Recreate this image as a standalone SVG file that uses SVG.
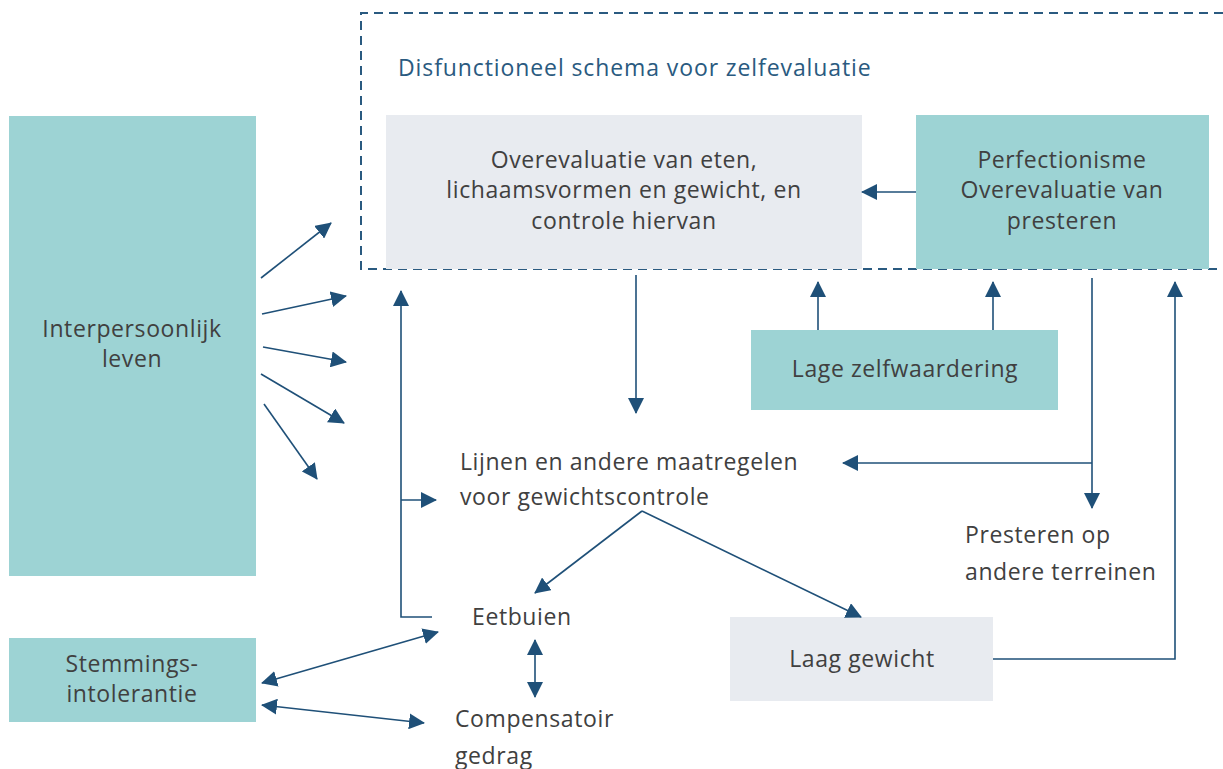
<svg xmlns="http://www.w3.org/2000/svg" width="1223" height="769" viewBox="0 0 1223 769">
<style>
.teal{fill:#9dd3d4}
.gray{fill:#e8ebf0}
.t{font-family:"Open Sans",Lato,sans-serif;font-size:23px;letter-spacing:0.6px;fill:#404040}
.c{text-anchor:middle}
.ln{stroke:#1f5078;stroke-width:1.6;fill:none}
.a{marker-end:url(#ah)}
.b{marker-start:url(#ahs);marker-end:url(#ah)}
</style>
<defs>
<marker id="ah" markerUnits="userSpaceOnUse" markerWidth="16" markerHeight="16" viewBox="0 0 16 16" refX="15" refY="8" orient="auto"><path d="M0,0 L16,8 L0,16 z" fill="#1f5078"/></marker>
<marker id="ahs" markerUnits="userSpaceOnUse" markerWidth="16" markerHeight="16" viewBox="0 0 16 16" refX="1" refY="8" orient="auto"><path d="M16,0 L0,8 L16,16 z" fill="#1f5078"/></marker>
</defs>
<rect width="1223" height="769" fill="#fff"/>
<g id="schema">
<path d="M1223,13 L361,13 L361,269 L1223,269" fill="none" stroke="#2a5a80" stroke-width="2" stroke-dasharray="9,6"/>
<text class="t" x="398" y="76" style="fill:#2a5a80;letter-spacing:0.9px">Disfunctioneel schema voor zelfevaluatie</text>
</g>
<g id="overevaluatie">
<rect class="gray" x="386" y="115" width="476" height="154"/>
<text class="t c" x="624" y="168">Overevaluatie van eten,</text>
<text class="t c" x="624" y="198">lichaamsvormen en gewicht, en</text>
<text class="t c" x="624" y="229">controle hiervan</text>
</g>
<g id="perfectionisme">
<rect class="teal" x="916" y="115" width="293" height="154"/>
<text class="t c" x="1062" y="168">Perfectionisme</text>
<text class="t c" x="1062" y="198">Overevaluatie van</text>
<text class="t c" x="1062" y="229">presteren</text>
</g>
<g id="interpersoonlijk">
<rect class="teal" x="9" y="116" width="247" height="460"/>
<text class="t c" x="132" y="337">Interpersoonlijk</text>
<text class="t c" x="132" y="367">leven</text>
</g>
<g id="stemmings">
<rect class="teal" x="9" y="638" width="247" height="84"/>
<text class="t c" x="132" y="672">Stemmings-</text>
<text class="t c" x="132" y="702">intolerantie</text>
</g>
<g id="zelfwaardering">
<rect class="teal" x="751" y="330" width="307" height="80"/>
<text class="t c" x="905" y="377">Lage zelfwaardering</text>
</g>
<g id="laaggewicht">
<rect class="gray" x="730" y="617" width="263" height="84"/>
<text class="t c" x="862" y="667">Laag gewicht</text>
</g>
<g id="lijnen">
<text class="t" x="460" y="470">Lijnen en andere maatregelen</text>
<text class="t" x="460" y="505">voor gewichtscontrole</text>
</g>
<g id="presteren">
<text class="t" x="965" y="543">Presteren op</text>
<text class="t" x="965" y="580">andere terreinen</text>
</g>
<g id="eetbuien">
<text class="t" x="472" y="625">Eetbuien</text>
</g>
<g id="compensatoir">
<text class="t" x="455" y="727">Compensatoir</text>
<text class="t" x="455" y="764">gedrag</text>
</g>
<g id="connectors">
<line class="ln a" x1="261" y1="278" x2="331" y2="223"/>
<line class="ln a" x1="262" y1="314" x2="346" y2="296"/>
<line class="ln a" x1="263" y1="347" x2="346" y2="362"/>
<line class="ln a" x1="261" y1="374" x2="344" y2="423"/>
<line class="ln a" x1="264" y1="404" x2="317" y2="479"/>
<path class="ln a" d="M432,617 L401,617 L401,291"/>
<line class="ln a" x1="401" y1="500" x2="436" y2="500"/>
<line class="ln a" x1="636" y1="275" x2="636" y2="413"/>
<line class="ln a" x1="916" y1="192" x2="862" y2="192"/>
<line class="ln a" x1="818" y1="330" x2="818" y2="282"/>
<line class="ln a" x1="993" y1="330" x2="993" y2="282"/>
<line class="ln a" x1="1092" y1="278" x2="1092" y2="508"/>
<line class="ln a" x1="1092" y1="463" x2="843" y2="463"/>
<path class="ln a" d="M993,659 L1175,659 L1175,282"/>
<line class="ln a" x1="642" y1="511" x2="535" y2="593"/>
<line class="ln a" x1="642" y1="511" x2="861" y2="617"/>
<line class="ln b" x1="535" y1="640" x2="535" y2="697"/>
<line class="ln b" x1="262" y1="683" x2="438" y2="632"/>
<line class="ln b" x1="262" y1="705" x2="424" y2="723"/>
</g>
</svg>
